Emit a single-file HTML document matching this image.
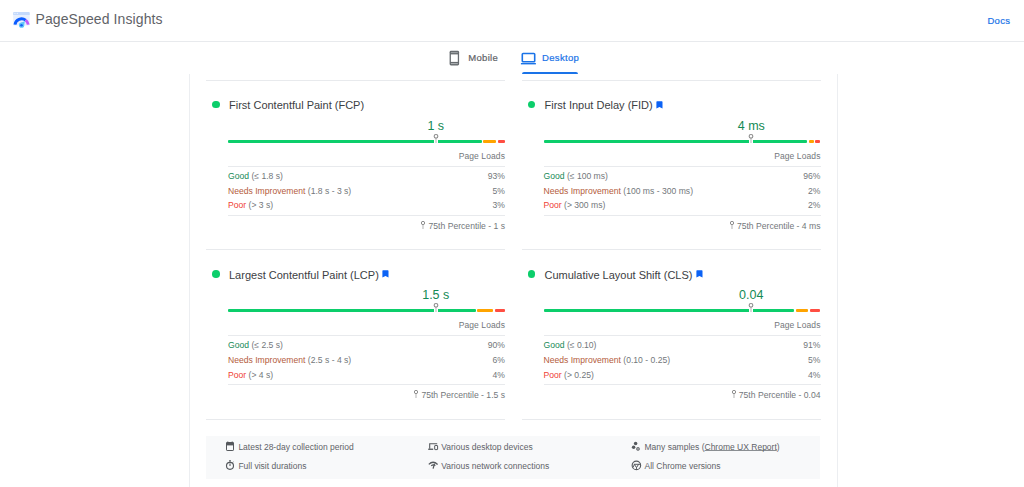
<!DOCTYPE html>
<html><head><meta charset="utf-8"><style>
html,body{margin:0;padding:0;background:#fff;}
body{width:1024px;height:487px;overflow:hidden;position:relative;font-family:"Liberation Sans",sans-serif;}
.t{position:absolute;white-space:nowrap;}
.r{position:absolute;}
</style></head><body>
<svg class="r" style="left:13px;top:11px" width="18" height="18" viewBox="0 0 18 18">
<rect x="0.2" y="0.9" width="16.5" height="13.6" rx="1" fill="#e6effe"/>
<path d="M0.2 1.9Q0.2 0.9 1.2 0.9H15.7Q16.7 0.9 16.7 1.9V3.9H0.2Z" fill="#c4dafc"/>
<circle cx="1.9" cy="2.4" r="0.6" fill="#eef4fe"/><circle cx="4.3" cy="2.4" r="0.6" fill="#eef4fe"/>
<path d="M1.98 13.6 A6.7 6.7 0 0 1 12.6 9.1" fill="none" stroke="#0b5cff" stroke-width="2.9"/>
<path d="M12.6 9.1 A6.7 6.7 0 0 1 15.22 13.6" fill="none" stroke="#bf5af8" stroke-width="2.9"/>
<path d="M6.5 12.5 L12.0 10.0 L10.6 16.0 Z" fill="#5fc5fb"/>
<circle cx="8.6" cy="14.2" r="2.6" fill="#5fc5fb"/>
<circle cx="8.5" cy="14.3" r="1.25" fill="#1463f3"/>
</svg>
<div class="t" style="left:35.5px;top:9.65px;font-size:14px;line-height:18px;color:#5f6368;letter-spacing:0.1px;">PageSpeed Insights</div>
<div class="t" style="right:13.700000000000045px;top:14.91px;font-size:9.5px;line-height:12px;color:#1a73e8;-webkit-text-stroke:0.2px currentColor;letter-spacing:0.3px;">Docs</div>
<div class="r" style="left:0px;top:41px;width:1024px;height:1px;background:#e8eaed;"></div>
<svg class="r" style="left:449px;top:50px" width="11" height="17" viewBox="0 0 11 17">
<rect x="0.6" y="0.8" width="9.5" height="14.7" rx="1.4" fill="#676b6f"/>
<rect x="1.9" y="4.4" width="6.9" height="7.5" fill="#fff"/>
<rect x="1.9" y="2.2" width="6.9" height="0.9" fill="#a9acaf"/>
<rect x="1.9" y="13" width="6.9" height="1.1" fill="#a9acaf"/>
</svg>
<div class="t" style="left:468.3px;top:52.11px;font-size:9.5px;line-height:12px;color:#5f6368;-webkit-text-stroke:0.2px currentColor;letter-spacing:0.3px;">Mobile</div>
<svg class="r" style="left:520px;top:52px" width="17" height="14" viewBox="0 0 17 14">
<rect x="2.3" y="1.5" width="12.4" height="8.3" rx="0.8" fill="none" stroke="#1a73e8" stroke-width="1.6"/>
<rect x="0.9" y="11" width="15" height="1.4" fill="#1a73e8"/>
</svg>
<div class="t" style="left:542.1px;top:52.11px;font-size:9.5px;line-height:12px;color:#1a73e8;-webkit-text-stroke:0.2px currentColor;letter-spacing:0.3px;">Desktop</div>
<div class="r" style="left:521.6px;top:72px;width:56.8px;height:2px;background:#1a73e8;border-radius:2px 2px 0 0;"></div>
<div class="r" style="left:189px;top:74px;width:1px;height:413px;background:#eceef1;"></div>
<div class="r" style="left:837px;top:74px;width:1px;height:413px;background:#eceef1;"></div>
<div class="r" style="left:206px;top:80px;width:299px;height:1px;background:#e8eaed;"></div>
<div class="r" style="left:212.1px;top:100.7px;width:7.6px;height:7.6px;border-radius:50%;background:#0cce6b"></div>
<div class="t" style="left:229px;top:98.19px;font-size:11px;line-height:14px;color:#3c4043;">First Contentful Paint (FCP)</div>
<div class="r" style="left:228.4px;top:140px;width:253.49999999999997px;height:3px;background:#0cce6b;border-radius:1px;"></div>
<div class="r" style="left:483.1px;top:140px;width:12.799999999999955px;height:3px;background:#ffa400;border-radius:1px;"></div>
<div class="r" style="left:497.7px;top:140px;width:7.0px;height:3px;background:#ff4e42;border-radius:1px;"></div>
<div class="r" style="left:433.75px;top:140px;width:4px;height:3px;background:#fff;"></div>
<svg class="r" style="left:431.75px;top:132px" width="8" height="12" viewBox="0 0 8 12"><path d="M4 5.8V11" stroke="#c4c4c4" stroke-width="1.3"/><circle cx="4" cy="4.3" r="1.85" fill="#fff" stroke="#8c8c8c" stroke-width="1.1"/></svg>
<div class="t" style="left:285.75px;width:300px;text-align:center;top:117.77px;font-size:12.5px;line-height:16px;color:#138a55;">1 s</div>
<div class="t" style="right:519px;top:150.85px;font-size:8.5px;line-height:11px;color:#73777b;letter-spacing:0.1px;">Page Loads</div>
<div class="r" style="left:228px;top:166px;width:277px;height:1px;background:#e8eaed;"></div>
<div class="t" style="left:228px;top:170.52px;font-size:8.6px;line-height:11px;color:#73777b;"><span style="color:#188a58">Good</span> (&le; 1.8 s)</div>
<div class="t" style="right:519px;top:170.52px;font-size:8.6px;line-height:11px;color:#73777b;">93%</div>
<div class="t" style="left:228px;top:185.52px;font-size:8.6px;line-height:11px;color:#73777b;"><span style="color:#b45c3c">Needs Improvement</span> (1.8 s - 3 s)</div>
<div class="t" style="right:519px;top:185.52px;font-size:8.6px;line-height:11px;color:#73777b;">5%</div>
<div class="t" style="left:228px;top:200.02px;font-size:8.6px;line-height:11px;color:#73777b;"><span style="color:#ef4136">Poor</span> (&gt; 3 s)</div>
<div class="t" style="right:519px;top:200.02px;font-size:8.6px;line-height:11px;color:#73777b;">3%</div>
<div class="r" style="left:228px;top:215px;width:277px;height:1px;background:#e8eaed;"></div>
<div class="t" style="right:519px;top:220.52px;font-size:8.6px;line-height:11px;color:#73777b;"><svg style="vertical-align:baseline;margin-right:2.3px;overflow:visible" width="6" height="8" viewBox="0 0 6 8"><path d="M3 3.6V8" stroke="#c4c4c4" stroke-width="1.3"/><circle cx="3" cy="2" r="1.65" fill="#fff" stroke="#8f8f8f" stroke-width="1"/></svg>75th Percentile - 1 s</div>
<div class="r" style="left:521.5px;top:80px;width:299px;height:1px;background:#e8eaed;"></div>
<div class="r" style="left:527.6px;top:100.7px;width:7.6px;height:7.6px;border-radius:50%;background:#0cce6b"></div>
<div class="t" style="left:544.5px;top:98.19px;font-size:11px;line-height:14px;color:#3c4043;">First Input Delay (FID)</div>
<svg class="r" style="left:656.4px;top:100.7px" width="8" height="9" viewBox="0 0 8 9"><path d="M0.4 0.9Q0.4 0.3 1 0.3H5.9Q6.5 0.3 6.5 0.9V7.6L3.45 6.1L0.4 7.6Z" fill="#0b62f5"/></svg>
<div class="r" style="left:544px;top:140px;width:262.9px;height:3px;background:#0cce6b;border-radius:1px;"></div>
<div class="r" style="left:809.1px;top:140px;width:4.699999999999932px;height:3px;background:#ffa400;border-radius:1px;"></div>
<div class="r" style="left:815.4px;top:140px;width:4.800000000000068px;height:3px;background:#ff4e42;border-radius:1px;"></div>
<div class="r" style="left:749.25px;top:140px;width:4px;height:3px;background:#fff;"></div>
<svg class="r" style="left:747.25px;top:132px" width="8" height="12" viewBox="0 0 8 12"><path d="M4 5.8V11" stroke="#c4c4c4" stroke-width="1.3"/><circle cx="4" cy="4.3" r="1.85" fill="#fff" stroke="#8c8c8c" stroke-width="1.1"/></svg>
<div class="t" style="left:601.25px;width:300px;text-align:center;top:117.77px;font-size:12.5px;line-height:16px;color:#138a55;">4 ms</div>
<div class="t" style="right:203.5px;top:150.85px;font-size:8.5px;line-height:11px;color:#73777b;letter-spacing:0.1px;">Page Loads</div>
<div class="r" style="left:543.5px;top:166px;width:277px;height:1px;background:#e8eaed;"></div>
<div class="t" style="left:543.5px;top:170.52px;font-size:8.6px;line-height:11px;color:#73777b;"><span style="color:#188a58">Good</span> (&le; 100 ms)</div>
<div class="t" style="right:203.5px;top:170.52px;font-size:8.6px;line-height:11px;color:#73777b;">96%</div>
<div class="t" style="left:543.5px;top:185.52px;font-size:8.6px;line-height:11px;color:#73777b;"><span style="color:#b45c3c">Needs Improvement</span> (100 ms - 300 ms)</div>
<div class="t" style="right:203.5px;top:185.52px;font-size:8.6px;line-height:11px;color:#73777b;">2%</div>
<div class="t" style="left:543.5px;top:200.02px;font-size:8.6px;line-height:11px;color:#73777b;"><span style="color:#ef4136">Poor</span> (&gt; 300 ms)</div>
<div class="t" style="right:203.5px;top:200.02px;font-size:8.6px;line-height:11px;color:#73777b;">2%</div>
<div class="r" style="left:543.5px;top:215px;width:277px;height:1px;background:#e8eaed;"></div>
<div class="t" style="right:203.5px;top:220.52px;font-size:8.6px;line-height:11px;color:#73777b;"><svg style="vertical-align:baseline;margin-right:2.3px;overflow:visible" width="6" height="8" viewBox="0 0 6 8"><path d="M3 3.6V8" stroke="#c4c4c4" stroke-width="1.3"/><circle cx="3" cy="2" r="1.65" fill="#fff" stroke="#8f8f8f" stroke-width="1"/></svg>75th Percentile - 4 ms</div>
<div class="r" style="left:206px;top:249px;width:299px;height:1px;background:#e8eaed;"></div>
<div class="r" style="left:212.1px;top:270.3px;width:7.6px;height:7.6px;border-radius:50%;background:#0cce6b"></div>
<div class="t" style="left:229px;top:267.79px;font-size:11px;line-height:14px;color:#3c4043;">Largest Contentful Paint (LCP)</div>
<svg class="r" style="left:382.1px;top:270.3px" width="8" height="9" viewBox="0 0 8 9"><path d="M0.4 0.9Q0.4 0.3 1 0.3H5.9Q6.5 0.3 6.5 0.9V7.6L3.45 6.1L0.4 7.6Z" fill="#0b62f5"/></svg>
<div class="r" style="left:228.4px;top:309px;width:247.4px;height:3px;background:#0cce6b;border-radius:1px;"></div>
<div class="r" style="left:477.2px;top:309px;width:15.600000000000023px;height:3px;background:#ffa400;border-radius:1px;"></div>
<div class="r" style="left:494.6px;top:309px;width:10.299999999999955px;height:3px;background:#ff4e42;border-radius:1px;"></div>
<div class="r" style="left:433.75px;top:309px;width:4px;height:3px;background:#fff;"></div>
<svg class="r" style="left:431.75px;top:301px" width="8" height="12" viewBox="0 0 8 12"><path d="M4 5.8V11" stroke="#c4c4c4" stroke-width="1.3"/><circle cx="4" cy="4.3" r="1.85" fill="#fff" stroke="#8c8c8c" stroke-width="1.1"/></svg>
<div class="t" style="left:285.75px;width:300px;text-align:center;top:287.37px;font-size:12.5px;line-height:16px;color:#138a55;">1.5 s</div>
<div class="t" style="right:519px;top:320.45px;font-size:8.5px;line-height:11px;color:#73777b;letter-spacing:0.1px;">Page Loads</div>
<div class="r" style="left:228px;top:335px;width:277px;height:1px;background:#e8eaed;"></div>
<div class="t" style="left:228px;top:340.12px;font-size:8.6px;line-height:11px;color:#73777b;"><span style="color:#188a58">Good</span> (&le; 2.5 s)</div>
<div class="t" style="right:519px;top:340.12px;font-size:8.6px;line-height:11px;color:#73777b;">90%</div>
<div class="t" style="left:228px;top:355.12px;font-size:8.6px;line-height:11px;color:#73777b;"><span style="color:#b45c3c">Needs Improvement</span> (2.5 s - 4 s)</div>
<div class="t" style="right:519px;top:355.12px;font-size:8.6px;line-height:11px;color:#73777b;">6%</div>
<div class="t" style="left:228px;top:369.62px;font-size:8.6px;line-height:11px;color:#73777b;"><span style="color:#ef4136">Poor</span> (&gt; 4 s)</div>
<div class="t" style="right:519px;top:369.62px;font-size:8.6px;line-height:11px;color:#73777b;">4%</div>
<div class="r" style="left:228px;top:384px;width:277px;height:1px;background:#e8eaed;"></div>
<div class="t" style="right:519px;top:390.12px;font-size:8.6px;line-height:11px;color:#73777b;"><svg style="vertical-align:baseline;margin-right:2.3px;overflow:visible" width="6" height="8" viewBox="0 0 6 8"><path d="M3 3.6V8" stroke="#c4c4c4" stroke-width="1.3"/><circle cx="3" cy="2" r="1.65" fill="#fff" stroke="#8f8f8f" stroke-width="1"/></svg>75th Percentile - 1.5 s</div>
<div class="r" style="left:521.5px;top:249px;width:299px;height:1px;background:#e8eaed;"></div>
<div class="r" style="left:527.6px;top:270.3px;width:7.6px;height:7.6px;border-radius:50%;background:#0cce6b"></div>
<div class="t" style="left:544.5px;top:267.79px;font-size:11px;line-height:14px;color:#3c4043;">Cumulative Layout Shift (CLS)</div>
<svg class="r" style="left:695.8px;top:270.3px" width="8" height="9" viewBox="0 0 8 9"><path d="M0.4 0.9Q0.4 0.3 1 0.3H5.9Q6.5 0.3 6.5 0.9V7.6L3.45 6.1L0.4 7.6Z" fill="#0b62f5"/></svg>
<div class="r" style="left:544px;top:309px;width:249.60000000000002px;height:3px;background:#0cce6b;border-radius:1px;"></div>
<div class="r" style="left:795.5px;top:309px;width:12.399999999999977px;height:3px;background:#ffa400;border-radius:1px;"></div>
<div class="r" style="left:809.6px;top:309px;width:10.299999999999955px;height:3px;background:#ff4e42;border-radius:1px;"></div>
<div class="r" style="left:749.25px;top:309px;width:4px;height:3px;background:#fff;"></div>
<svg class="r" style="left:747.25px;top:301px" width="8" height="12" viewBox="0 0 8 12"><path d="M4 5.8V11" stroke="#c4c4c4" stroke-width="1.3"/><circle cx="4" cy="4.3" r="1.85" fill="#fff" stroke="#8c8c8c" stroke-width="1.1"/></svg>
<div class="t" style="left:601.25px;width:300px;text-align:center;top:287.37px;font-size:12.5px;line-height:16px;color:#138a55;">0.04</div>
<div class="t" style="right:203.5px;top:320.45px;font-size:8.5px;line-height:11px;color:#73777b;letter-spacing:0.1px;">Page Loads</div>
<div class="r" style="left:543.5px;top:335px;width:277px;height:1px;background:#e8eaed;"></div>
<div class="t" style="left:543.5px;top:340.12px;font-size:8.6px;line-height:11px;color:#73777b;"><span style="color:#188a58">Good</span> (&le; 0.10)</div>
<div class="t" style="right:203.5px;top:340.12px;font-size:8.6px;line-height:11px;color:#73777b;">91%</div>
<div class="t" style="left:543.5px;top:355.12px;font-size:8.6px;line-height:11px;color:#73777b;"><span style="color:#b45c3c">Needs Improvement</span> (0.10 - 0.25)</div>
<div class="t" style="right:203.5px;top:355.12px;font-size:8.6px;line-height:11px;color:#73777b;">5%</div>
<div class="t" style="left:543.5px;top:369.62px;font-size:8.6px;line-height:11px;color:#73777b;"><span style="color:#ef4136">Poor</span> (&gt; 0.25)</div>
<div class="t" style="right:203.5px;top:369.62px;font-size:8.6px;line-height:11px;color:#73777b;">4%</div>
<div class="r" style="left:543.5px;top:384px;width:277px;height:1px;background:#e8eaed;"></div>
<div class="t" style="right:203.5px;top:390.12px;font-size:8.6px;line-height:11px;color:#73777b;"><svg style="vertical-align:baseline;margin-right:2.3px;overflow:visible" width="6" height="8" viewBox="0 0 6 8"><path d="M3 3.6V8" stroke="#c4c4c4" stroke-width="1.3"/><circle cx="3" cy="2" r="1.65" fill="#fff" stroke="#8f8f8f" stroke-width="1"/></svg>75th Percentile - 0.04</div>
<div class="r" style="left:206px;top:419px;width:299px;height:1px;background:#e8eaed;"></div>
<div class="r" style="left:521.5px;top:419px;width:299px;height:1px;background:#e8eaed;"></div>
<div class="r" style="left:206px;top:436px;width:614px;height:42.5px;background:#f8f9fa;"></div>
<svg class="r" style="left:224px;top:440px" width="12" height="32" viewBox="0 0 12 32">
<rect x="2.5" y="2.5" width="7" height="8" rx="0.6" fill="none" stroke="#55595d" stroke-width="1"/>
<rect x="2" y="2.6" width="8" height="2.8" fill="#55595d"/>
<rect x="3.1" y="1.6" width="1.3" height="1.4" fill="#55595d"/><rect x="7.6" y="1.6" width="1.3" height="1.4" fill="#55595d"/>
<circle cx="6" cy="25.8" r="3.5" fill="none" stroke="#55595d" stroke-width="1.15"/>
<rect x="5.1" y="20.2" width="1.8" height="1.4" fill="#55595d"/>
<path d="M6 23.6V26" stroke="#55595d" stroke-width="1.1"/>
<path d="M8.6 22.6L9.4 21.9" stroke="#55595d" stroke-width="1"/>
</svg>
<svg class="r" style="left:427px;top:440px" width="12" height="32" viewBox="0 0 12 32">
<path d="M2.7 8.7V3.8H10.2" fill="none" stroke="#55595d" stroke-width="1.1"/>
<rect x="1.2" y="8.6" width="5" height="1.3" fill="#55595d"/>
<rect x="7.7" y="5.5" width="2.9" height="4.1" rx="0.4" fill="none" stroke="#55595d" stroke-width="1"/>
<path d="M1.8 24.4Q6 20.2 10.6 24.4" fill="none" stroke="#55595d" stroke-width="1.3"/>
<path d="M4.2 25.8Q6.2 24 8.4 25.6" fill="none" stroke="#55595d" stroke-width="1.2"/>
<path d="M6.1 28.6L7.5 23.6" fill="none" stroke="#55595d" stroke-width="1.3"/>
</svg>
<svg class="r" style="left:630px;top:440px" width="12" height="32" viewBox="0 0 12 32">
<circle cx="5.6" cy="3.6" r="1.75" fill="#55595d"/>
<circle cx="3.6" cy="7.3" r="1.75" fill="#55595d"/>
<circle cx="8" cy="8.9" r="1.55" fill="#9a9da0" stroke="#55595d" stroke-width="0.6"/>
<circle cx="6.4" cy="25.4" r="4.25" fill="none" stroke="#55595d" stroke-width="1.15"/>
<path d="M3.9 24.3H10.6" stroke="#55595d" stroke-width="1"/>
<path d="M4.3 24.3L6.5 27.6L8.6 24.3" fill="none" stroke="#55595d" stroke-width="1"/>
<path d="M6.5 27.4V29.8M4.2 24.6L3.2 27.4" stroke="#55595d" stroke-width="0.9"/>
</svg>
<div class="t" style="left:238.4px;top:441.55px;font-size:8.5px;line-height:11px;color:#5f6368;">Latest 28-day collection period</div>
<div class="t" style="left:238.4px;top:460.75px;font-size:8.5px;line-height:11px;color:#5f6368;">Full visit durations</div>
<div class="t" style="left:441.2px;top:441.55px;font-size:8.5px;line-height:11px;color:#5f6368;">Various desktop devices</div>
<div class="t" style="left:441.2px;top:460.75px;font-size:8.5px;line-height:11px;color:#5f6368;">Various network connections</div>
<div class="t" style="left:644.5px;top:441.55px;font-size:8.5px;line-height:11px;color:#5f6368;">Many samples (<span style="text-decoration:underline;text-decoration-color:#8a8e92;text-underline-offset:0.4px;text-decoration-skip-ink:none">Chrome UX Report</span>)</div>
<div class="t" style="left:644.5px;top:460.75px;font-size:8.5px;line-height:11px;color:#5f6368;">All Chrome versions</div>
</body></html>
